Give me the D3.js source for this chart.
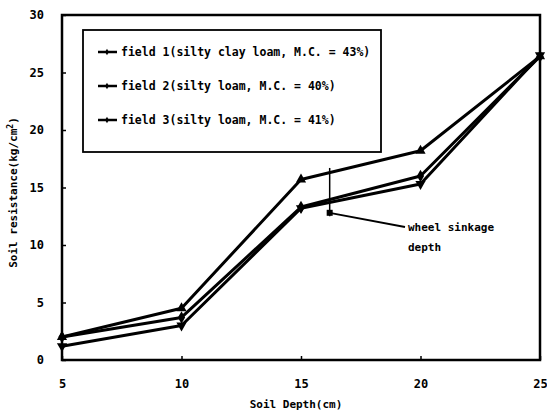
<!DOCTYPE html>
<html><head><meta charset="utf-8">
<script src="https://cdn.jsdelivr.net/npm/d3@7"></script>
<style>
body{margin:0;background:#fff;}
text{font-family:"DejaVu Sans Mono","Liberation Mono",monospace;font-weight:bold;fill:#000;}
</style></head>
<body><svg id="c" width="547" height="415"></svg>
<script>
const depths = [5, 10, 15, 20, 25];
const field1 = [2.0, 4.5, 15.7, 18.2, 26.4];
const field2 = [2.0, 3.7, 13.3, 16.0, 26.4];
const field3 = [1.2, 3.0, 13.2, 15.3, 26.5];
const seriesNames = ["field 1(silty clay loam, M.C. = 43%)", "field 2(silty loam, M.C. = 40%)", "field 3(silty loam, M.C. = 41%)"];
const xTicks = [5, 10, 15, 20, 25];
const yTicks = [0, 5, 10, 15, 20, 25, 30];
const sinkageDepth = 16.2;
const sinkageRange = [12.5, 16.7];

const svg = d3.select("#c");
const m = {l: 62, r: 540, t: 15, b: 360};
const x = d3.scaleLinear().domain([5, 25]).range([m.l, m.r]);
const y = d3.scaleLinear().domain([0, 30]).range([m.b, m.t]);

// frame
svg.append("rect").attr("x", m.l).attr("y", m.t).attr("width", m.r - m.l).attr("height", m.b - m.t)
  .attr("fill", "none").attr("stroke", "#000").attr("stroke-width", 2.5);

// axes
const ya = svg.append("g").attr("transform", `translate(${m.l},0)`)
  .call(d3.axisRight(y).tickValues(yTicks).tickSize(4).tickFormat(d3.format("d")));
ya.select(".domain").remove();
ya.selectAll("line").attr("stroke-width", 1.5);
ya.selectAll("text").attr("x", -18).attr("text-anchor", "end").style("font-size", "12px");

const xa = svg.append("g").attr("transform", `translate(0,${m.b})`)
  .call(d3.axisTop(x).tickValues(xTicks).tickSize(4).tickFormat(d3.format("d")));
xa.select(".domain").remove();
xa.selectAll("line").attr("stroke-width", 1.5);
xa.selectAll("text").attr("y", 28).style("font-size", "12px");

// axis titles
svg.append("text").attr("x", (m.l + m.r) / 2 - 5).attr("y", 408).attr("text-anchor", "middle")
  .style("font-size", "11px").text("Soil Depth(cm)");
const yt = svg.append("text").attr("transform", `translate(17,${(m.t + m.b) / 2 + 5}) rotate(-90)`)
  .attr("text-anchor", "middle").style("font-size", "11px");
yt.append("tspan").text("Soil resistance(kg/cm");
yt.append("tspan").attr("dy", -4).style("font-size", "8px").text("2");
yt.append("tspan").attr("dy", 4).text(")");

const series = [field1, field2, field3];
const line = d3.line().x((d, i) => x(depths[i])).y(d => y(d));
const symbols = [d3.symbolTriangle, d3.symbolDiamond, d3.symbolTriangle];

series.forEach((s, k) => {
  svg.append("path").datum(s).attr("d", line).attr("fill", "none")
    .attr("stroke", "#000").attr("stroke-width", 3).attr("stroke-linejoin", "round");
  svg.append("g").selectAll("path").data(s).join("path")
    .attr("transform", (d, i) => `translate(${x(depths[i])},${y(d)})${k === 2 ? " rotate(180)" : ""}`)
    .attr("d", d3.symbol().type(symbols[k]).size(45)).attr("fill", "#000");
});

// wheel sinkage depth annotation
const sx = x(sinkageDepth);
svg.append("line").attr("x1", sx).attr("x2", sx).attr("y1", y(sinkageRange[1])).attr("y2", y(sinkageRange[0]))
  .attr("stroke", "#000").attr("stroke-width", 1.5);
svg.append("rect").attr("x", sx - 3).attr("y", y(12.8) - 3).attr("width", 6).attr("height", 6).attr("fill", "#000");
svg.append("line").attr("x1", sx).attr("y1", y(12.8)).attr("x2", 405).attr("y2", 227)
  .attr("stroke", "#000").attr("stroke-width", 1.8);
svg.append("text").attr("x", 408).attr("y", 231).style("font-size", "11px").text("wheel sinkage");
svg.append("text").attr("x", 408).attr("y", 251).style("font-size", "11px").text("depth");

// legend
svg.append("rect").attr("x", 83).attr("y", 30).attr("width", 298).attr("height", 122)
  .attr("fill", "#fff").attr("stroke", "#000").attr("stroke-width", 1.8);
seriesNames.forEach((n, k) => {
  const ly = 52 + k * 34;
  svg.append("line").attr("x1", 98).attr("x2", 117).attr("y1", ly).attr("y2", ly)
    .attr("stroke", "#000").attr("stroke-width", 2.5);
  svg.append("path").attr("transform", `translate(107,${ly})`)
    .attr("d", d3.symbol().type(d3.symbolDiamond).size(12)).attr("fill", "#000");
  svg.append("text").attr("x", 121).attr("y", ly + 4).style("font-size", "11.5px").text(n);
});
</script></body></html>
